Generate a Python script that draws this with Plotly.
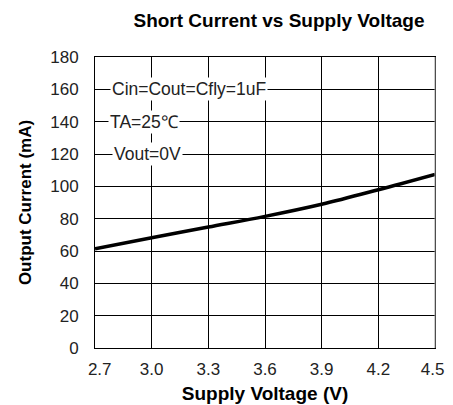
import plotly.graph_objects as go

voltage = [2.7, 3.0, 3.3, 3.6, 3.9, 4.2, 4.5]
current = [61.4, 68.2, 74.8, 81.4, 88.9, 97.9, 107.4]
x_ticks = [2.7, 3.0, 3.3, 3.6, 3.9, 4.2, 4.5]
x_tick_labels = ["&nbsp;&nbsp;2.7", "3.0", "3.3", "3.6", "3.9", "4.2", "4.5&nbsp;"]
y_ticks = [0, 20, 40, 60, 80, 100, 120, 140, 160, 180]
notes = ["Cin=Cout=Cfly=1uF", "TA=25℃", "Vout=0V"]
note_y = [160, 140, 120]
note_x = [2.78, 2.77, 2.79]

FONT = "Liberation Sans, Arial"

fig = go.Figure()
fig.add_trace(go.Scatter(x=voltage, y=current, mode="lines", line=dict(color="black", width=3.5, shape="spline"),
                         showlegend=False, hoverinfo="skip"))

for t, xx, yy in zip(notes, note_x, note_y):
    fig.add_annotation(x=xx, y=yy, text=t, showarrow=False, xanchor="left", yanchor="middle",
                       bgcolor="white", borderpad=1,
                       font=dict(family=FONT, size=17.5, color="#222"))

fig.add_shape(type="line", xref="paper", yref="paper", x0=1, x1=1, y0=0, y1=1,
              line=dict(color="#999999", width=1), layer="above")

fig.update_layout(
    width=453, height=405,
    margin=dict(l=87, r=12, t=49, b=64),
    paper_bgcolor="white", plot_bgcolor="white",
    title=dict(text="<b>Short Current vs Supply Voltage</b>", x=271/453, xanchor="center", y=1 - 12/405, yanchor="middle",
               font=dict(family=FONT, size=19, color="black")),
    font=dict(family=FONT, size=17, color="#222"),
)
fig.update_xaxes(range=[2.7, 4.5], tickvals=x_ticks, ticktext=x_tick_labels,
                 showgrid=True, gridcolor="black", gridwidth=1,
                 showline=True, linecolor="black", linewidth=1, mirror=True,
                 zeroline=False, ticks="outside", ticklen=6, tickcolor="white",
                 ticklabeloverflow="allow",
                 tickfont=dict(family=FONT, size=17, color="#222"),
                 title=dict(text="<b>Supply Voltage (V)</b>", standoff=8,
                            font=dict(family=FONT, size=19, color="black")))
fig.update_yaxes(range=[0, 180], tickvals=y_ticks,
                 showgrid=True, gridcolor="black", gridwidth=1,
                 showline=True, linecolor="black", linewidth=1, mirror=True,
                 zeroline=False, ticks="outside", ticklen=12, tickcolor="white",
                 tickfont=dict(family=FONT, size=17, color="#222"),
                 title=dict(text="<b>Output Current (mA)</b>", standoff=14,
                            font=dict(family=FONT, size=17, color="black")))

fig.write_html("out.html")
